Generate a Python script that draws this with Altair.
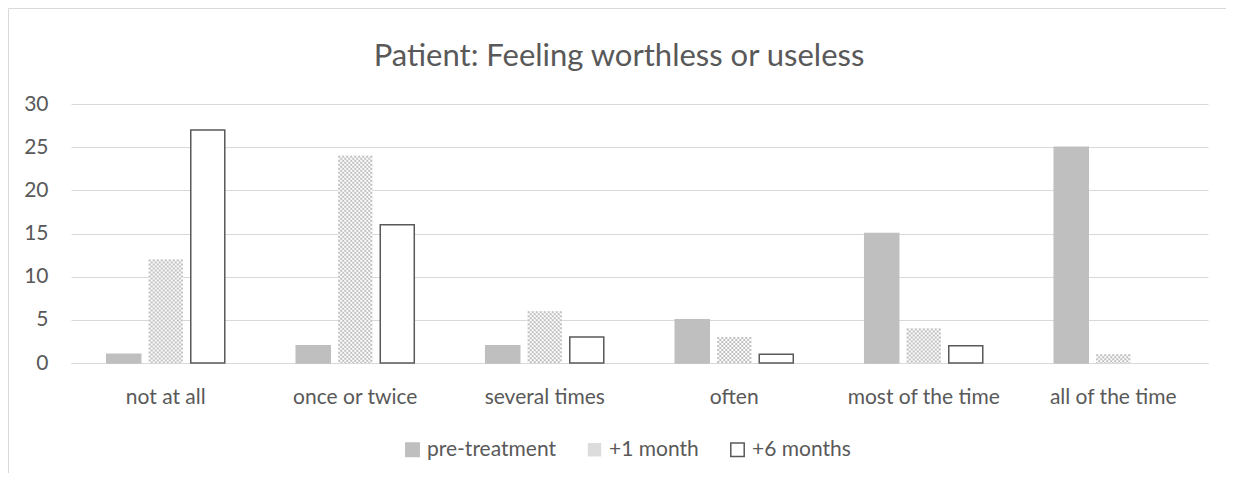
import altair as alt
import pandas as pd

categories = ["not at all", "once or twice", "several times", "often", "most of the time", "all of the time"]
series = ["pre-treatment", "+1 month", "+6 months"]
pre_treatment = [1, 2, 2, 5, 15, 25]
one_month = [12, 24, 6, 3, 4, 1]
six_months = [27, 16, 3, 1, 2, 0]
y_ticks = [0, 5, 10, 15, 20, 25, 30]
title_text = "Patient: Feeling worthless or useless"

rows = []
for s, vals in zip(series, [pre_treatment, one_month, six_months]):
    for c, v in zip(categories, vals):
        rows.append({"category": c, "series": s, "value": v})
df = pd.DataFrame(rows)

FONT = "Lato"
TEXT = "#595959"
GRID = "#d9d9d9"
PRE = "#bfbfbf"
FS = 21

x_enc = alt.X(
    "category:N", sort=categories, title=None,
    scale=alt.Scale(domain=categories, paddingInner=0.377, paddingOuter=0.1885),
    axis=alt.Axis(labelAngle=0, labelFont=FONT, labelFontSize=FS, labelColor=TEXT,
                  labelPadding=23, ticks=False, tickSize=0, domainColor=GRID,
                  domainWidth=1, grid=False),
)
y_enc = alt.Y(
    "value:Q", title=None,
    scale=alt.Scale(domain=[0, 30], nice=False, zero=True),
    axis=alt.Axis(values=y_ticks, labelFont=FONT, labelFontSize=FS, labelColor=TEXT,
                  labelPadding=23, ticks=False, tickSize=0, domain=False,
                  gridColor=GRID, gridWidth=1),
)
xoff_enc = alt.XOffset(
    "series:N", sort=series,
    scale=alt.Scale(domain=series, paddingInner=0.1905, paddingOuter=0),
)

legend = alt.Legend(
    title=None, orient="none", direction="horizontal", legendX=331, legendY=335,
    symbolType="square", symbolSize=180, symbolStrokeWidth=1.5,
    labelFont=FONT, labelFontSize=FS, labelColor=TEXT, labelOffset=4,
    columnPadding=28,
)

bars = alt.Chart(df).transform_filter("datum.value > 0").mark_bar(strokeWidth=1.5).encode(
    x=x_enc, xOffset=xoff_enc, y=y_enc,
    fill=alt.Fill("series:N", sort=series,
                  scale=alt.Scale(domain=series, range=[PRE, "#dcdcdc", "#ffffff"]),
                  legend=legend),
    stroke=alt.Stroke("series:N", sort=series,
                      scale=alt.Scale(domain=series, range=[PRE, "transparent", TEXT]),
                      legend=legend),
)

month_df = df[df["series"] == "+1 month"]
white = alt.Chart(month_df).mark_bar(fill="#ffffff").encode(
    x=x_enc, xOffset=xoff_enc, y=y_enc,
)

checker_layers = []
for c in range(17):
    checker_layers.append(
        alt.Chart(month_df).mark_rule(
            color=PRE, strokeWidth=2, strokeDash=[2, 2],
            strokeDashOffset=2 * (c % 2), xOffset=-16 + 2 * c,
        ).encode(x=x_enc, y=y_enc, y2=alt.datum(0))
    )

border = alt.Chart(alt.Data(values=[{"a": 1}])).mark_rect(
    fill="transparent", stroke=GRID, strokeWidth=1,
).encode(
    x=alt.value(-62.5), x2=alt.value(1160), y=alt.value(-95.5), y2=alt.value(420),
)

title = alt.Chart(alt.Data(values=[{"t": title_text}])).mark_text(
    font=FONT, fontSize=31, color=TEXT, align="center", baseline="alphabetic",
).encode(text="t:N", x=alt.value(548), y=alt.value(-38))

chart = alt.layer(border, title, bars, white, *checker_layers).properties(
    width=1137, height=259,
    autosize=alt.AutoSizeParams(type="none"),
    padding={"left": 63, "top": 96, "right": 18, "bottom": 110},
).configure_view(stroke=None).configure_axis(labelFontWeight="normal")

chart.save("out.html", embed_options={"renderer": "svg", "actions": False})
